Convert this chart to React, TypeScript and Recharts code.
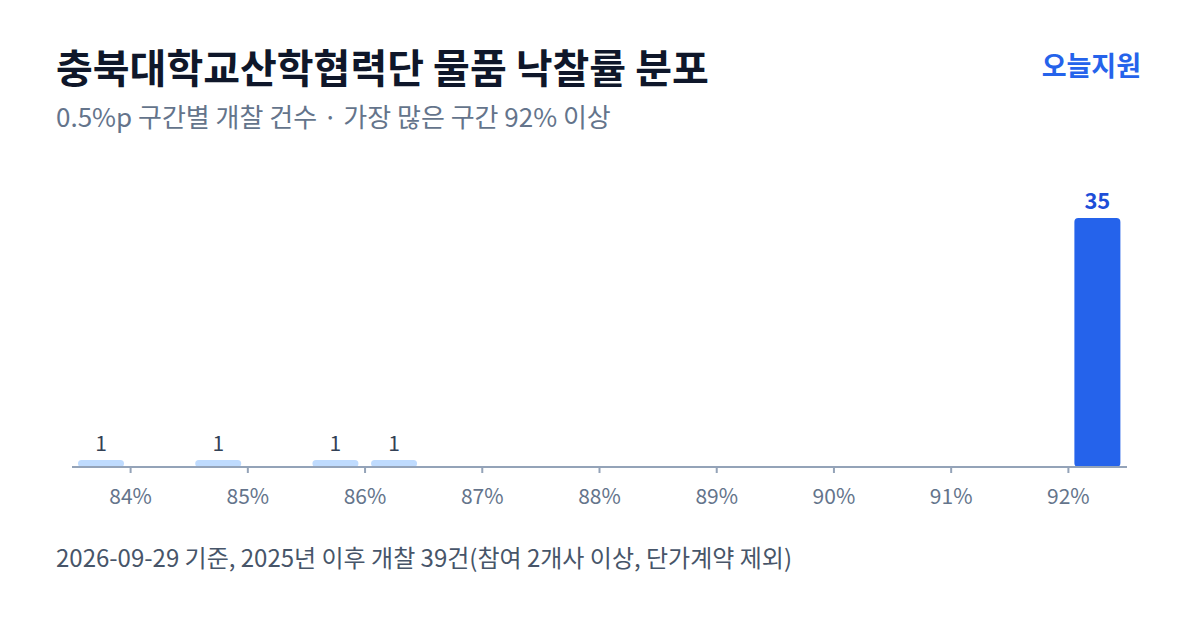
import React from "react";
import { BarChart, Bar, XAxis, YAxis, Cell, LabelList } from "recharts";

// 0.5%p bins (lower bound, %) and number of openings in each
const binStarts = [83.5, 84, 84.5, 85, 85.5, 86, 86.5, 87, 87.5, 88, 88.5, 89, 89.5, 90, 90.5, 91, 91.5, 92];
const counts = [1, 0, 1, 0, 1, 1, 0, 0, 0, 0, 0, 0, 0, 0, 0, 0, 0, 35];
const xTicks = [84, 85, 86, 87, 88, 89, 90, 91, 92];

const FONT = '"Noto Sans CJK KR", "Noto Sans", sans-serif';
const BLUE = "#2563eb";
const LIGHT = "#bfdbfe";

const data = binStarts.map((s, i) => ({ mid: s + 0.25, count: counts[i] }));
const maxCount = Math.max(...counts);

function CountLabel(props: any) {
  const { x, y, width, value } = props;
  if (!value) return null;
  const isMax = value === maxCount;
  return (
    <text
      x={x + width / 2}
      y={y - 9}
      textAnchor="middle"
      fontFamily={FONT}
      fontSize={isMax ? 22 : 21}
      fontWeight={isMax ? 700 : 400}
      fill={isMax ? "#1d4ed8" : "#334155"}
    >
      {value}
    </text>
  );
}

export default function App() {
  return (
    <div
      style={{
        position: "absolute",
        left: 0,
        top: 0,
        width: 1200,
        height: 630,
        background: "#ffffff",
        fontFamily: FONT,
        overflow: "hidden",
      }}
    >
      <div style={{ position: "absolute", left: 56, top: 40, fontSize: 40, fontWeight: 700, color: "#0f172a", lineHeight: "52px" }}>
        충북대학교산학협력단 물품 낙찰률 분포
      </div>
      <div style={{ position: "absolute", right: 59, top: 46, fontSize: 27, fontWeight: 700, color: BLUE, lineHeight: "38px" }}>
        오늘지원
      </div>
      <div style={{ position: "absolute", left: 56, top: 98, fontSize: 26, color: "#64748b", lineHeight: "36px" }}>
        0.5%p 구간별 개찰 건수 · 가장 많은 구간 92% 이상
      </div>

      <div style={{ position: "absolute", left: 0, top: 0 }}>
        <BarChart width={1200} height={630} data={data} margin={{ top: 218, right: 73, bottom: 123, left: 72 }}>
          <XAxis
            dataKey="mid"
            type="number"
            domain={[83.5, 92.5]}
            ticks={xTicks}
            interval={0}
            height={40}
            tickFormatter={(v) => `${v}%`}
            tick={{ fontSize: 21, fill: "#64748b", fontFamily: FONT }}
            tickSize={6}
            tickMargin={16}
            axisLine={{ stroke: "#94a3b8", strokeWidth: 2 }}
            tickLine={{ stroke: "#94a3b8", strokeWidth: 2 }}
          />
          <YAxis hide domain={[0, maxCount]} />
          <Bar dataKey="count" barSize={46} radius={4} isAnimationActive={false}>
            {data.map((d, i) => (
              <Cell key={i} fill={d.count === maxCount ? BLUE : LIGHT} />
            ))}
            <LabelList dataKey="count" content={<CountLabel />} />
          </Bar>
        </BarChart>
      </div>

      <div style={{ position: "absolute", left: 56, top: 539, fontSize: 24, color: "#475569", lineHeight: "36px" }}>
        2026-09-29 기준, 2025년 이후 개찰 39건(참여 2개사 이상, 단가계약 제외)
      </div>
    </div>
  );
}
